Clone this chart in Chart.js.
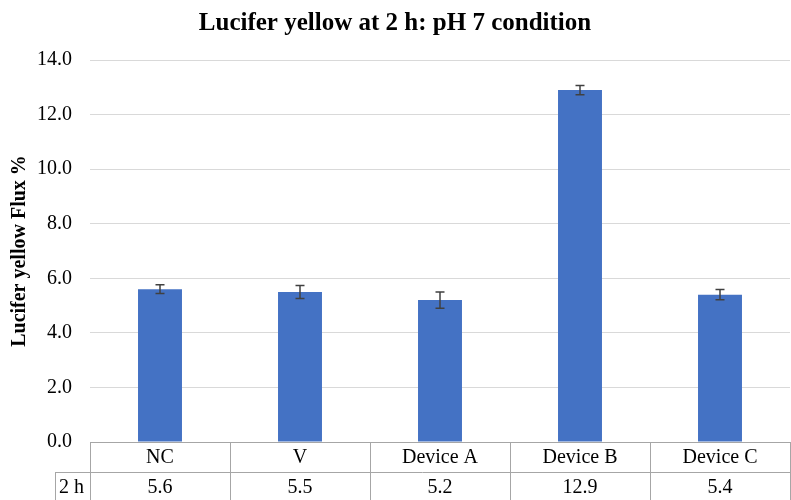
<!DOCTYPE html>
<html>
<head>
<meta charset="utf-8">
<script src="https://cdn.jsdelivr.net/npm/chart.js@4/dist/chart.umd.min.js"></script>
<style>
  html, body { margin: 0; padding: 0; background: #fff; }
  #wrap { width: 791px; height: 500px; }
</style>
</head>
<body>
<div id="wrap"><canvas id="flux_chart"></canvas></div>
<script>
// categories and values
const categories = ['NC', 'V', 'Device A', 'Device B', 'Device C']
const fluxValues = [5.6, 5.5, 5.2, 12.9, 5.4]
const fluxErrors = [0.16, 0.24, 0.3, 0.17, 0.19]
const tableRowLabel = '2 h'

const serif = '"Liberation Serif", "Times New Roman", serif'
const lineGray = '#a6a6a6'

// draws the error bars on top of each bar
const errorBarPlugin = {
  id: 'errorBars',
  afterDatasetsDraw(chart) {
    const ctx = chart.ctx
    const x = chart.scales.x
    const y = chart.scales.y
    ctx.save()
    ctx.strokeStyle = '#404040'
    ctx.lineWidth = 1.5
    for (let i = 0; i < fluxValues.length; i++) {
      const px = x.getPixelForValue(i)
      const top = y.getPixelForValue(fluxValues[i] + fluxErrors[i])
      const bot = y.getPixelForValue(fluxValues[i] - fluxErrors[i])
      ctx.beginPath()
      ctx.moveTo(px, top); ctx.lineTo(px, bot)
      ctx.moveTo(px - 4.5, top); ctx.lineTo(px + 4.5, top)
      ctx.moveTo(px - 4.5, bot); ctx.lineTo(px + 4.5, bot)
      ctx.stroke()
    }
    ctx.restore()
  }
}

// the data table under the x axis
const dataTablePlugin = {
  id: 'dataTable',
  afterDraw(chart) {
    const ctx = chart.ctx
    const area = chart.chartArea
    const x = chart.scales.x
    const n = categories.length
    const colW = (area.right - area.left) / n
    const rowH = 30
    const top = area.bottom
    const mid = top + rowH
    const bot = mid + rowH
    const labelLeft = 55

    ctx.save()
    ctx.strokeStyle = lineGray
    ctx.lineWidth = 1
    ctx.beginPath()
    // horizontal lines
    ctx.moveTo(area.left, top + 0.5); ctx.lineTo(area.right, top + 0.5)
    ctx.moveTo(labelLeft, mid + 0.5); ctx.lineTo(area.right, mid + 0.5)
    ctx.moveTo(labelLeft, bot - 0.5); ctx.lineTo(area.right, bot - 0.5)
    // vertical lines
    ctx.moveTo(labelLeft + 0.5, mid); ctx.lineTo(labelLeft + 0.5, bot)
    for (let i = 0; i <= n; i++) {
      const vx = Math.round(area.left + i * colW) + 0.5
      ctx.moveTo(vx, top); ctx.lineTo(vx, bot)
    }
    ctx.stroke()

    ctx.fillStyle = '#000'
    ctx.font = '20px ' + serif
    ctx.textBaseline = 'middle'
    ctx.textAlign = 'center'
    for (let i = 0; i < n; i++) {
      const cx = x.getPixelForValue(i)
      ctx.fillText(categories[i], cx, top + rowH / 2 + 1)
      ctx.fillText(fluxValues[i].toFixed(1), cx, mid + rowH / 2 + 1)
    }
    ctx.textAlign = 'left'
    ctx.fillText(tableRowLabel, labelLeft + 4, mid + rowH / 2 + 1)
    ctx.restore()
  }
}

const data = {
  labels: categories,
  datasets: [{
    label: tableRowLabel,
    backgroundColor: '#4472C4',
    borderWidth: 0,
    data: fluxValues,
    categoryPercentage: 1,
    barPercentage: 0.314
  }]
}

const config = {
  type: 'bar',
  data: data,
  options: {
    responsive: true,
    maintainAspectRatio: false,
    animation: false,
    layout: { padding: { left: 0, right: 1, top: 0, bottom: 58 } },
    plugins: {
      legend: { display: false },
      tooltip: { enabled: false },
      title: {
        display: true,
        text: 'Lucifer yellow at 2 h: pH 7 condition',
        color: '#000',
        font: { family: serif, size: 25, weight: 'bold' },
        padding: { top: 9, bottom: 21 }
      }
    },
    scales: {
      x: {
        grid: { display: false },
        border: { display: false },
        ticks: { display: false },
        afterFit(scale) { scale.height = 0 }
      },
      y: {
        min: 0,
        max: 14,
        ticks: {
          stepSize: 2,
          padding: 18,
          color: '#000',
          font: { family: serif, size: 20 },
          callback: (v) => v.toFixed(1)
        },
        grid: { color: '#d9d9d9', drawTicks: false, lineWidth: 1 },
        border: { display: false },
        title: {
          display: true,
          text: 'Lucifer yellow Flux %',
          color: '#000',
          font: { family: serif, size: 20, weight: 'bold' },
          padding: { top: 8, bottom: 0 }
        },
        afterFit(scale) { scale.width = 90 }
      }
    }
  },
  plugins: [errorBarPlugin, dataTablePlugin]
}

const fluxChart = new Chart(document.getElementById('flux_chart'), config)
</script>
</body>
</html>
